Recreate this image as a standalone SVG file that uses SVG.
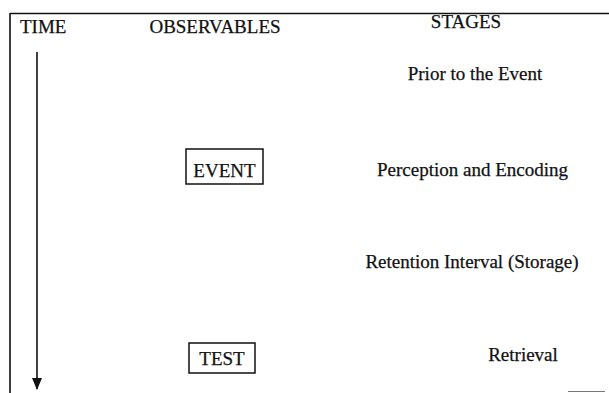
<svg xmlns="http://www.w3.org/2000/svg" width="609" height="393" viewBox="0 0 609 393">
<defs>
<style>
text{font-family:"Liberation Serif","Times New Roman",serif;font-size:19px;fill:#111;stroke:#111;stroke-width:0.25}
.box{fill:none;stroke:#111;stroke-width:1.5}
.ln{stroke:#111;stroke-width:1.6;fill:none}
</style>
<marker id="ah" markerWidth="12" markerHeight="10" refX="11" refY="5" orient="auto" markerUnits="userSpaceOnUse" viewBox="0 0 12 10">
<path d="M0,0 L12,5 L0,10 Z" fill="#111"/>
</marker>
</defs>
<rect width="609" height="393" fill="#fff"/>
<g id="frame">
<line class="ln" x1="10" y1="13.5" x2="609" y2="13.5"/>
<line class="ln" x1="10" y1="13" x2="10" y2="393"/>
<line x1="568" y1="391.5" x2="605" y2="391.5" stroke="#777" stroke-width="1"/>
</g>
<g id="headers">
<text x="20" y="33">TIME</text>
<text x="215" y="33" text-anchor="middle">OBSERVABLES</text>
<text x="466" y="28" text-anchor="middle">STAGES</text>
</g>
<g id="connectors">
<line class="ln" x1="37" y1="52" x2="37" y2="389" marker-end="url(#ah)"/>
</g>
<g id="event">
<rect class="box" x="186" y="149" width="77" height="35"/>
<text x="224.5" y="177" text-anchor="middle">EVENT</text>
</g>
<g id="test">
<rect class="box" x="189" y="343" width="66" height="30"/>
<text x="222" y="365" text-anchor="middle">TEST</text>
</g>
<g id="stage-prior"><text x="475" y="80" text-anchor="middle">Prior to the Event</text></g>
<g id="stage-perception"><text x="472.5" y="176" text-anchor="middle">Perception and Encoding</text></g>
<g id="stage-retention"><text x="472" y="268" text-anchor="middle">Retention Interval (Storage)</text></g>
<g id="stage-retrieval"><text x="523" y="361" text-anchor="middle">Retrieval</text></g>
</svg>
